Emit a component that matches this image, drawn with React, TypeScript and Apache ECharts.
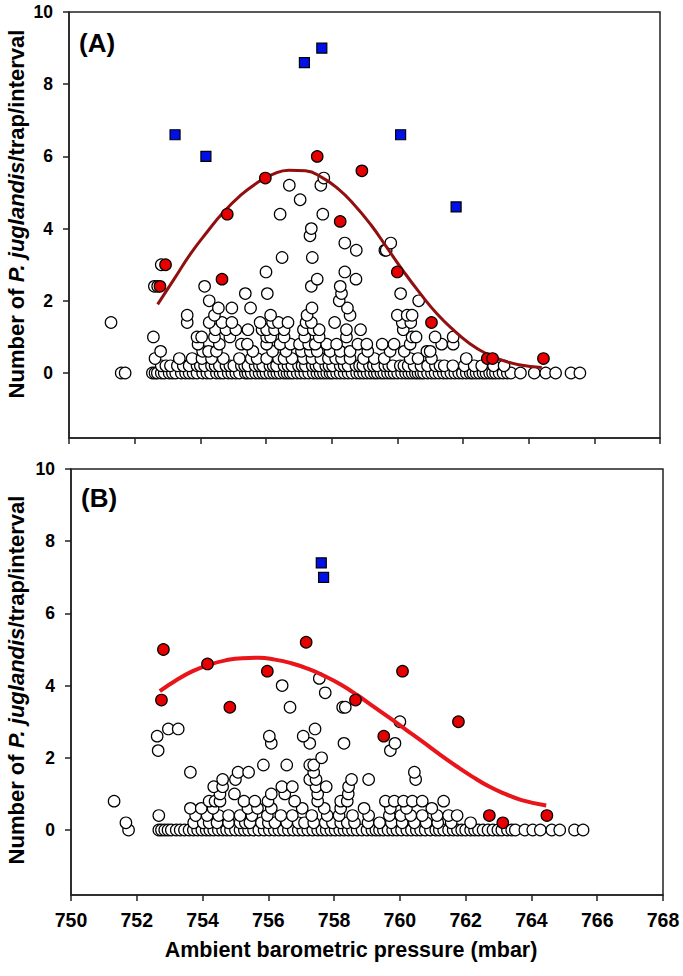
import React, { useEffect, useRef } from "react";
import * as echarts from "echarts";

const X_MIN = 750;
const X_MAX = 768;
const X_STEP = 2;
const Y_MIN = -1.8;
const Y_MAX = 10;
const Y_TICKS = [0, 2, 4, 6, 8, 10];

// Curve (fitted model)
const curveA: number[][] = [
  [752.7, 1.9], [753.2, 2.6], [753.7, 3.3], [754.2, 3.9], [754.7, 4.45], [755.2, 4.9],
  [755.7, 5.25], [756.2, 5.5], [756.7, 5.62], [757.2, 5.6], [757.7, 5.42], [758.2, 5.1],
  [758.7, 4.65], [759.2, 4.1], [759.7, 3.45], [760.2, 2.8], [760.7, 2.2], [761.2, 1.65],
  [761.7, 1.2], [762.2, 0.82], [762.7, 0.54], [763.2, 0.35], [763.7, 0.23], [764.4, 0.15],
];
const curveB: number[][] = [
  [752.7, 3.85], [753.2, 4.15], [753.7, 4.4], [754.2, 4.58], [754.7, 4.7], [755.2, 4.76],
  [755.7, 4.77], [756.2, 4.72], [756.7, 4.62], [757.2, 4.47], [757.7, 4.27], [758.2, 4.03],
  [758.7, 3.74], [759.2, 3.42], [759.7, 3.1], [760.2, 2.77], [760.7, 2.44], [761.2, 2.1],
  [761.7, 1.78], [762.2, 1.48], [762.7, 1.21], [763.2, 1.0], [763.7, 0.83], [764.45, 0.68],
];

const redA: number[][] = [
  [752.77, 2.4], [752.94, 3.0], [754.66, 2.6], [754.82, 4.4], [755.98, 5.4], [757.56, 6.0],
  [758.26, 4.2], [758.92, 5.6], [760.0, 2.8], [761.04, 1.4], [762.74, 0.4], [762.9, 0.4], [764.45, 0.4],
];
const blueA: number[][] = [
  [753.23, 6.6], [754.17, 6.0], [757.17, 8.6], [757.7, 9.0], [760.1, 6.6], [761.79, 4.6],
];
const redB: number[][] = [
  [752.81, 5.0], [752.75, 3.6], [754.15, 4.6], [754.83, 3.4], [755.97, 4.4], [757.15, 5.2],
  [758.65, 3.6], [759.51, 2.6], [760.08, 4.4], [761.78, 3.0], [762.72, 0.4], [763.13, 0.2], [764.47, 0.4],
];
const blueB: number[][] = [[757.61, 7.4], [757.68, 7.0]];

// Open circles, grouped by count level: [count, pressures[]]
const openA: [number, number[]][] = [
  [0, [751.59, 751.71, 752.54, 752.62, 752.69, 752.81, 752.9, 753.05, 753.15, 753.25, 753.42, 753.55, 753.66, 753.78,
    753.9, 754.07, 754.2, 754.31, 754.49, 754.6, 754.7, 754.85, 754.96, 755.08, 755.19, 755.37, 755.45, 755.55,
    755.68, 755.79, 755.9, 756.0, 756.12, 756.23, 756.33, 756.43, 756.55, 756.64, 756.73, 756.82, 756.95, 757.06,
    757.18, 757.3, 757.44, 757.55, 757.65, 757.75, 757.85, 757.95, 758.03, 758.15, 758.26, 758.38, 758.5, 758.62,
    758.76, 758.86, 758.97, 759.08, 759.19, 759.3, 759.39, 759.5, 759.59, 759.7, 759.8, 759.9, 760.01, 760.13,
    760.25, 760.35, 760.45, 760.55, 760.63, 760.72, 760.8, 760.92, 761.04, 761.15, 761.27, 761.4, 761.51, 761.63,
    761.75, 761.87, 761.98, 762.1, 762.22, 762.3, 762.4, 762.5, 762.61, 762.7, 762.81, 762.9, 762.99, 763.1,
    763.22, 763.35, 763.46, 763.75, 764.17, 764.52, 764.82, 765.29, 765.56]],
  [0.2, [752.81, 752.95, 753.09, 753.3, 753.48, 753.66, 753.9, 754.0, 754.13, 754.34, 754.45, 754.58, 754.78, 754.9,
    755.02, 755.25, 755.35, 755.45, 755.67, 755.8, 755.9, 756.12, 756.22, 756.32, 756.55, 756.67, 756.79, 756.99,
    757.1, 757.2, 757.41, 757.52, 757.62, 757.82, 757.92, 758.03, 758.26, 758.38, 758.5, 758.74, 758.85, 758.95,
    759.15, 759.27, 759.39, 759.62, 759.74, 759.86, 760.09, 760.2, 760.33, 760.51, 760.72, 760.92, 761.16, 761.3,
    761.43, 761.69, 762.04, 762.34, 762.57, 762.93, 763.25]],
  [0.4, [752.62, 753.36, 753.75, 754.05, 754.34, 754.7, 755.19, 755.55, 755.73, 756.02, 756.38, 756.55, 756.79,
    757.14, 757.4, 757.67, 757.9, 758.12, 758.3, 758.56, 758.97, 759.3, 759.6, 760.39, 760.63, 761.04, 762.1]],
  [0.6, [752.79, 754.07, 754.25, 754.49, 755.6, 756.2, 756.61, 757.08, 757.35, 757.56, 757.95, 758.26, 758.56,
    759.1, 759.78, 760.21, 760.9, 761.0]],
  [0.8, [753.93, 754.58, 755.25, 755.43, 756.02, 756.43, 756.75, 757.02, 757.3, 757.5, 757.85, 758.15, 758.8, 759.07,
    759.54, 759.9, 760.39, 761.35, 761.7]],
  [1.0, [752.57, 753.9, 754.04, 754.43, 754.9, 756.02, 756.14, 756.55, 757.18, 757.62, 758.45, 760.45, 760.57, 761.15, 761.7]],
  [1.2, [754.46, 754.78, 755.08, 755.45, 755.88, 756.02, 756.26, 756.55, 757.14, 757.44, 757.62, 758.45, 758.88, 760.18]],
  [1.4, [751.28, 753.6, 754.27, 754.66, 754.96, 755.82, 756.2, 756.38, 756.67, 757.22, 757.38, 758.09, 760.15, 760.41]],
  [1.6, [753.6, 754.43, 756.14, 757.25, 758.56, 760.0, 760.3, 760.45]],
  [1.8, [754.55, 754.96, 755.53, 757.4, 758.48]],
  [2.0, [754.27, 758.23, 760.65]],
  [2.2, [755.37, 756.04, 758.3, 760.1]],
  [2.4, [752.6, 752.7, 754.13, 757.38, 758.26]],
  [2.6, [757.56, 758.74]],
  [2.8, [756.0, 758.4]],
  [3.0, [752.81]],
  [3.2, [756.49, 757.41]],
  [3.4, [758.75, 759.62, 759.66]],
  [3.6, [758.4, 759.8]],
  [3.8, [757.34]],
  [4.0, [757.38]],
  [4.4, [756.43, 757.73]],
  [4.8, [757.04]],
  [5.2, [756.71, 757.67]],
  [5.4, [757.76]],
];

const openB: [number, number[]][] = [
  [0, [751.75, 752.67, 752.75, 752.85, 752.95, 753.05, 753.2, 753.32, 753.45, 753.59, 753.72, 753.85, 753.98,
    754.11, 754.22, 754.34, 754.48, 754.61, 754.73, 754.85, 755.0, 755.14, 755.27, 755.4, 755.55, 755.71, 755.87,
    756.03, 756.18, 756.32, 756.46, 756.61, 756.76, 756.91, 757.05, 757.2, 757.35, 757.5, 757.63, 757.76, 757.9,
    758.03, 758.17, 758.3, 758.43, 758.56, 758.7, 758.85, 759.0, 759.15, 759.27, 759.38, 759.5, 759.64, 759.78,
    759.91, 760.05, 760.21, 760.35, 760.5, 760.63, 760.77, 760.93, 761.09, 761.2, 761.33, 761.48, 761.62, 761.75,
    761.88, 762.0, 762.15, 762.27, 762.39, 762.53, 762.68, 762.83, 762.98, 763.1, 763.27, 763.4, 763.51, 763.8,
    764.04, 764.27, 764.62, 764.86, 765.31, 765.57]],
  [0.2, [751.67, 753.73, 754.02, 754.2, 754.44, 754.79, 755.14, 755.3, 755.44, 755.79, 756.0, 756.2, 756.56, 756.91,
    757.1, 757.38, 757.73, 757.95, 758.2, 758.4, 758.62, 759.03, 759.38, 759.74, 760.07, 760.44, 760.8, 761.15,
    761.56, 762.15]],
  [0.4, [752.67, 753.79, 754.14, 754.49, 754.79, 755.14, 755.5, 755.97, 756.38, 756.73, 757.32, 757.79, 758.15,
    758.56, 759.05, 759.68, 760.03, 760.33, 760.68, 761.13, 761.48, 761.74]],
  [0.6, [753.63, 753.96, 754.32, 755.38, 755.67, 756.09, 757.03, 757.7, 758.2, 758.91, 759.71, 760.2, 760.97]],
  [0.8, [751.31, 754.2, 754.38, 754.53, 755.26, 755.59, 755.99, 756.8, 757.5, 758.2, 758.4, 759.56, 759.83, 760.11,
    760.38, 760.68, 761.33]],
  [1.0, [754.53, 754.97, 756.09, 756.5, 757.5, 758.43]],
  [1.2, [754.34, 754.61, 756.41, 756.73, 757.45, 757.76, 758.44]],
  [1.4, [754.61, 755.0, 757.26, 757.45, 758.53, 759.05, 760.48]],
  [1.6, [753.63, 755.08, 755.4, 757.38, 760.44]],
  [1.8, [755.85, 756.56, 757.26, 757.38]],
  [2.0, [757.62]],
  [2.2, [752.65, 759.71]],
  [2.4, [756.09, 757.26, 758.3, 759.85]],
  [2.6, [752.62, 756.03, 757.06]],
  [2.8, [752.96, 753.26, 757.42]],
  [3.0, [760.0]],
  [3.4, [756.66, 758.26, 758.34]],
  [3.8, [757.73]],
  [4.0, [756.42]],
  [4.2, [757.55]],
];

const Y_NAME = "Number of {i|P. juglandis}/trap/interval";
const X_NAME = "Ambient barometric pressure (mbar)";
const PANEL_LABELS = ["(A)", "(B)"];

const FONT = "'Liberation Sans', Arial, Helvetica, sans-serif";

function flatten(groups: [number, number[]][]): number[][] {
  const out: number[][] = [];
  groups.forEach(([y, xs]) => xs.forEach((x) => out.push([x, y])));
  return out;
}

export default function App() {
  const ref = useRef<HTMLDivElement>(null);
  useEffect(() => {
    document.body.style.margin = "0";
    if (!ref.current) return;
    const chart = echarts.init(ref.current, null, { renderer: "svg" });
    const axisColor = "#222";
    const grids = [
      { left: 69, top: 12, width: 591, height: 426 },
      { left: 71, top: 469, width: 592, height: 426 },
    ];
    const xAxes = grids.map((_, i) => ({
      gridIndex: i,
      type: "value",
      min: X_MIN,
      max: X_MAX,
      interval: X_STEP,
      axisLine: { show: true, onZero: false, lineStyle: { color: axisColor, width: 1.5 } },
      axisTick: { show: true, inside: false, length: 6, lineStyle: { color: axisColor, width: 1.5 } },
      splitLine: { show: false },
      axisLabel: {
        show: i === 1,
        fontSize: 19.5,
        fontWeight: "bold",
        color: "#000",
        fontFamily: FONT,
        margin: 15,
      },
    }));
    const yAxes = grids.map((_, i) => ({
      gridIndex: i,
      type: "value",
      min: Y_MIN,
      max: Y_MAX,
      axisLine: { show: true, onZero: false, lineStyle: { color: axisColor, width: 1.5 } },
      axisTick: { show: true, inside: false, length: 6, customValues: Y_TICKS, lineStyle: { color: axisColor, width: 1.5 } },
      splitLine: { show: false },
      axisLabel: {
        customValues: Y_TICKS,
        fontSize: 17.5,
        fontWeight: "bold",
        color: "#000",
        fontFamily: FONT,
        margin: 16,
      },
    }));
    const panels = [
      { open: openA, curve: curveA, red: redA, blue: blueA, curveColor: "#920f0f", curveWidth: 3 },
      { open: openB, curve: curveB, red: redB, blue: blueB, curveColor: "#e8151b", curveWidth: 4 },
    ];
    const series: any[] = [];
    panels.forEach((p, i) => {
      series.push({
        type: "scatter", xAxisIndex: i, yAxisIndex: i, data: flatten(p.open),
        symbol: "circle", symbolSize: 11.5,
        itemStyle: { color: "#ffffff", borderColor: "#000", borderWidth: 1.2, opacity: 1 },
        z: 2,
      });
      series.push({
        type: "line", xAxisIndex: i, yAxisIndex: i, data: p.curve, smooth: true,
        showSymbol: false, symbol: "none",
        lineStyle: { color: p.curveColor, width: p.curveWidth },
        z: 3,
      });
      series.push({
        type: "scatter", xAxisIndex: i, yAxisIndex: i, data: p.red,
        symbol: "circle", symbolSize: 11.5,
        itemStyle: { color: "#e60000", borderColor: "#000", borderWidth: 1.2, opacity: 1 },
        z: 4,
      });
      series.push({
        type: "scatter", xAxisIndex: i, yAxisIndex: i, data: p.blue,
        symbol: "rect", symbolSize: 10,
        itemStyle: { color: "#0010e8", borderColor: "#000", borderWidth: 1.2, opacity: 1 },
        z: 4,
      });
    });
    const yNameStyle = (y: number) => ({
      type: "text",
      x: 16,
      y,
      rotation: Math.PI / 2,
      style: {
        text: Y_NAME,
        fontSize: 22,
        fontWeight: "bold",
        fontFamily: FONT,
        fill: "#000",
        align: "center",
        verticalAlign: "middle",
        textAlign: "center",
        textVerticalAlign: "middle",
        rich: {
          i: { fontSize: 22, fontWeight: "bold", fontStyle: "italic", fontFamily: FONT, fill: "#000", color: "#000" },
        },
      },
    });
    const option: any = {
      animation: false,
      backgroundColor: "#ffffff",
      grid: grids.map((g) => ({ ...g, show: true, borderColor: axisColor, borderWidth: 1.5, backgroundColor: "transparent" })),
      xAxis: xAxes,
      yAxis: yAxes,
      series,
      graphic: [
        yNameStyle(214),
        yNameStyle(680),
        {
          type: "text", x: 351, y: 950,
          style: {
            text: X_NAME, fontSize: 21.5, fontWeight: "bold", fontFamily: FONT, fill: "#000",
            align: "center", verticalAlign: "middle", textAlign: "center", textVerticalAlign: "middle",
          },
        },
        {
          type: "text", x: 79, y: 43,
          style: {
            text: PANEL_LABELS[0], fontSize: 26, fontWeight: "bold", fontFamily: FONT, fill: "#000",
            align: "left", verticalAlign: "middle", textAlign: "left", textVerticalAlign: "middle",
          },
        },
        {
          type: "text", x: 81, y: 498,
          style: {
            text: PANEL_LABELS[1], fontSize: 26, fontWeight: "bold", fontFamily: FONT, fill: "#000",
            align: "left", verticalAlign: "middle", textAlign: "left", textVerticalAlign: "middle",
          },
        },
      ],
    };
    chart.setOption(option);
    return () => chart.dispose();
  }, []);
  return <div ref={ref} style={{ width: 683, height: 976 }} />;
}
